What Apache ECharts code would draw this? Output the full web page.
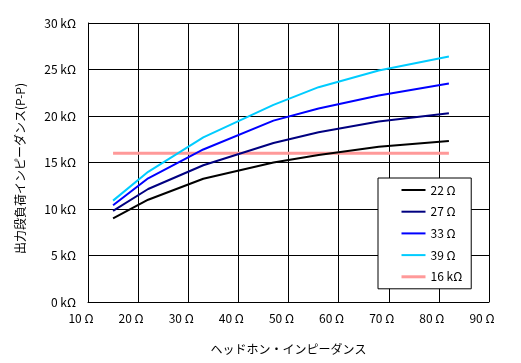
<!DOCTYPE html>
<html>
<head>
<meta charset="utf-8">
<script src="https://cdn.jsdelivr.net/npm/echarts@6/dist/echarts.min.js"></script>
<style>
html,body{margin:0;padding:0;background:#fff;}
#c{width:521px;height:363px;}
</style>
</head>
<body>
<div id="c"></div>
<script>
var headphoneOhms = [15, 22, 33, 47, 56, 68, 82];
var load22 = [9.0, 11.0, 13.25, 15.0, 15.8, 16.7, 17.3];
var load27 = [9.8, 12.15, 14.7, 17.1, 18.25, 19.4, 20.3];
var load33 = [10.4, 13.3, 16.4, 19.5, 20.8, 22.2, 23.5];
var load39 = [10.9, 14.0, 17.7, 21.2, 23.1, 24.9, 26.4];
var ref16k = [16, 16, 16, 16, 16, 16, 16];
var seriesNames = ['22 Ω', '27 Ω', '33 Ω', '39 Ω', '16 kΩ'];
var xTicks = [10, 20, 30, 40, 50, 60, 70, 80, 90];
var yTicks = [0, 5, 10, 15, 20, 25, 30];

function pairs(ys) { return headphoneOhms.map(function (x, i) { return [x, ys[i]]; }); }

var font = '"Noto Sans CJK JP", "Noto Sans", sans-serif';
var chart = echarts.init(document.getElementById('c'), null, {renderer: 'canvas'});
var colors = ['#000000', '#000080', '#0000FF', '#00CCFF', '#FF9999'];
var widths = [2, 2, 2, 2, 3];
var datas = [load22, load27, load33, load39, ref16k];
chart.setOption({
  animation: false,
  backgroundColor: '#ffffff',
  textStyle: {fontFamily: font},
  grid: {left: 88, right: 32, top: 23, bottom: 61, containLabel: false},
  xAxis: {
    type: 'value', min: xTicks[0], max: xTicks[xTicks.length - 1], interval: 10,
    name: 'ヘッドホン・インピーダンス', nameLocation: 'middle', nameGap: 41,
    nameTextStyle: {color: '#000', fontSize: 12, fontFamily: font},
    axisLine: {show: true, lineStyle: {color: '#000', width: 1}},
    axisTick: {show: false},
    axisLabel: {color: '#000', fontSize: 12, margin: 10, padding: [0, 14, 0, 0], fontFamily: font,
      formatter: function (v) { return v + ' Ω'; }},
    splitLine: {show: true, lineStyle: {color: '#000', width: 1}}
  },
  yAxis: {
    type: 'value', min: yTicks[0], max: yTicks[yTicks.length - 1], interval: 5,
    name: '出力段負荷インピーダンス(P-P)', nameLocation: 'middle', nameGap: 62, nameRotate: 90,
    nameTextStyle: {color: '#000', fontSize: 12, fontFamily: font, padding: [0, 12, 0, 0]},
    axisLine: {show: true, lineStyle: {color: '#000', width: 1}},
    axisTick: {show: false},
    axisLabel: {color: '#000', fontSize: 12, margin: 12, fontFamily: font,
      formatter: function (v) { return v + ' kΩ'; }},
    splitLine: {show: true, lineStyle: {color: '#000', width: 1}}
  },
  legend: {
    orient: 'vertical', left: 378, top: 178,
    backgroundColor: '#fff', borderColor: '#000', borderWidth: 1, borderRadius: 0,
    padding: [6, 9, 6, 22], itemWidth: 24, itemHeight: 14, itemGap: 9.7,
    itemStyle: {opacity: 0, borderWidth: 0},
    textStyle: {color: '#000', fontSize: 12, fontFamily: font},
    data: seriesNames.map(function (n, i) {
      return {name: n, lineStyle: {width: widths[i], color: colors[i]}};
    })
  },
  series: seriesNames.map(function (n, i) {
    return {
      name: n, type: 'line', data: pairs(datas[i]), symbol: 'none', smooth: false,
      lineStyle: {color: colors[i], width: widths[i]},
      itemStyle: {color: colors[i]}, z: i === 4 ? 1 : 2
    };
  })
});
</script>
</body>
</html>
